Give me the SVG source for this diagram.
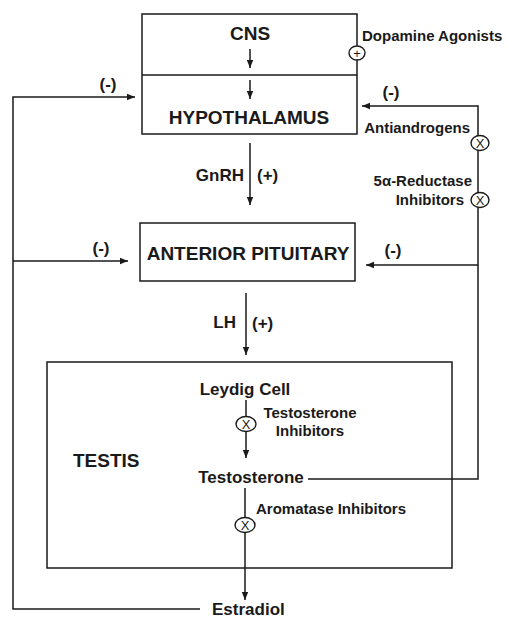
<svg xmlns="http://www.w3.org/2000/svg" width="507" height="620" viewBox="0 0 507 620">
<defs>
<marker id="ah" viewBox="0 0 10 10" refX="10" refY="5" markerWidth="8" markerHeight="8" markerUnits="userSpaceOnUse" orient="auto">
<path d="M0,1 L10,5 L0,9 z" fill="#1a1a1a"/>
</marker>
<style>
.box{fill:none;stroke:#1a1a1a;stroke-width:1.5}
.ln{fill:none;stroke:#1a1a1a;stroke-width:1.5}
.ar{fill:none;stroke:#1a1a1a;stroke-width:1.5;marker-end:url(#ah)}
.cir{fill:#fff;stroke:#1a1a1a;stroke-width:1.4}
text{font-family:"Liberation Sans",Arial,sans-serif;font-weight:bold;fill:#1a1a1a}
.big{font-size:19px}
.mid{font-size:17px}
.sm{font-size:15px}
.sym{font-size:13px;font-weight:normal}
</style>
</defs>
<rect width="507" height="620" fill="#fff"/>
<g id="connectors">
<line class="ar" x1="250" y1="49" x2="250" y2="68"/>
<line class="ar" x1="250" y1="80" x2="250" y2="99"/>
<line class="ar" x1="250" y1="143" x2="250" y2="205"/>
<line class="ar" x1="246" y1="293" x2="246" y2="355"/>
<line class="ar" x1="246" y1="400" x2="246" y2="458"/>
<line class="ar" x1="245" y1="488" x2="245" y2="600"/>
<polyline class="ar" points="200,609 13,609 13,97 135,97"/>
<line class="ar" x1="13" y1="261" x2="128" y2="261"/>
<polyline class="ar" points="308,479 478,479 478,106 362,106"/>
<line class="ar" x1="478" y1="265" x2="366" y2="265"/>
</g>
<g id="cns-hypothalamus">
<rect class="box" x="142" y="14" width="215" height="120"/>
<line class="ln" x1="142" y1="75" x2="357" y2="75"/>
<text class="big" x="250" y="40" text-anchor="middle">CNS</text>
<text class="big" x="249" y="124" text-anchor="middle">HYPOTHALAMUS</text>
</g>
<g id="dopamine">
<text class="sm" x="362" y="41">Dopamine Agonists</text>
<ellipse class="cir" cx="357" cy="53" rx="8" ry="7"/>
<text class="sym" x="357" y="57.5" text-anchor="middle">+</text>
</g>
<g id="antiandrogens">
<text class="sm" x="470" y="133" text-anchor="end">Antiandrogens</text>
<ellipse class="cir" cx="480" cy="143" rx="9" ry="7.5"/>
<text class="sym" x="480" y="147.5" text-anchor="middle">X</text>
</g>
<g id="reductase">
<text class="sm" x="472" y="186" text-anchor="end">5α-Reductase</text>
<text class="sm" x="464" y="205" text-anchor="end">Inhibitors</text>
<ellipse class="cir" cx="480" cy="200" rx="9" ry="7.5"/>
<text class="sym" x="480" y="204.5" text-anchor="middle">X</text>
</g>
<g id="labels">
<text class="mid" x="108" y="90" text-anchor="middle">(-)</text>
<text class="mid" x="391" y="98" text-anchor="middle">(-)</text>
<text class="mid" x="101" y="254" text-anchor="middle">(-)</text>
<text class="mid" x="393" y="256" text-anchor="middle">(-)</text>
<text class="mid" x="244" y="181" text-anchor="end">GnRH</text>
<text class="mid" x="257" y="181">(+)</text>
<text class="mid" x="236" y="328" text-anchor="end">LH</text>
<text class="mid" x="252" y="329">(+)</text>
</g>
<g id="anterior-pituitary">
<rect class="box" x="140" y="223" width="215" height="58"/>
<text class="big" x="248" y="260" text-anchor="middle">ANTERIOR PITUITARY</text>
</g>
<g id="testis">
<rect class="box" x="47" y="362" width="405" height="206"/>
<text class="big" x="73" y="467">TESTIS</text>
<text class="mid" x="245" y="395" text-anchor="middle">Leydig Cell</text>
<text class="mid" x="251" y="483" text-anchor="middle">Testosterone</text>
</g>
<g id="testosterone-inhibitors">
<ellipse class="cir" cx="246" cy="424" rx="10" ry="7.5"/>
<text class="sym" x="246" y="428.5" text-anchor="middle">X</text>
<text class="sm" x="310" y="418" text-anchor="middle">Testosterone</text>
<text class="sm" x="310" y="436" text-anchor="middle">Inhibitors</text>
</g>
<g id="aromatase-inhibitors">
<ellipse class="cir" cx="245" cy="525" rx="10" ry="7.5"/>
<text class="sym" x="245" y="529.5" text-anchor="middle">X</text>
<text class="sm" x="256" y="514">Aromatase Inhibitors</text>
</g>
<g id="estradiol">
<text class="mid" x="212" y="615">Estradiol</text>
</g>
</svg>
